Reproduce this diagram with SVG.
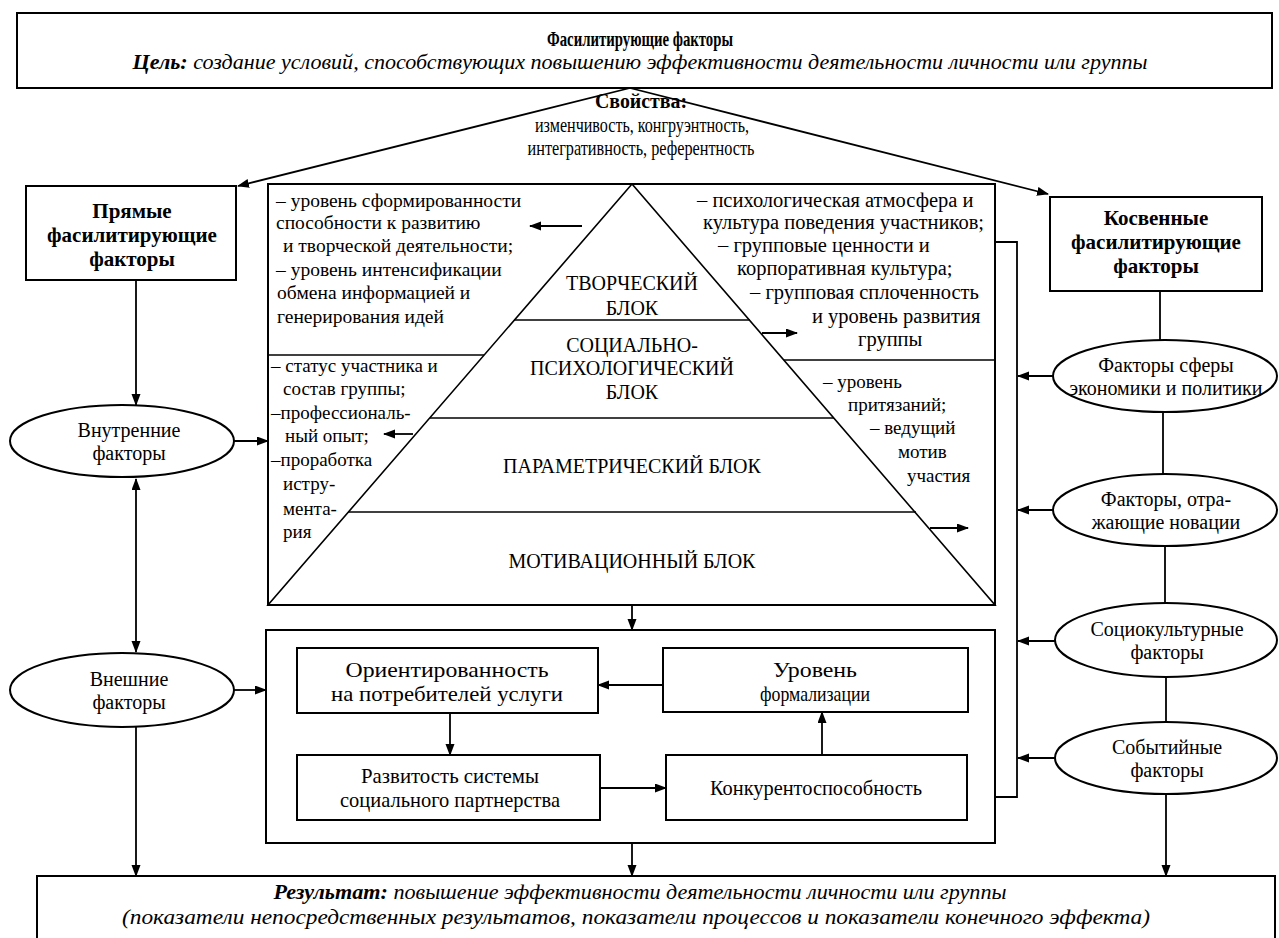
<svg xmlns="http://www.w3.org/2000/svg" width="1279" height="938" viewBox="0 0 1279 938" font-family="'Liberation Serif', 'Times New Roman', serif">
<defs>
<marker id="ah" markerWidth="12" markerHeight="10" refX="11" refY="4.5" orient="auto-start-reverse" markerUnits="userSpaceOnUse">
<path d="M0,0 L12,4.5 L0,9 z" fill="#000"/>
</marker>
<style>
.box{fill:#fff;stroke:#000;stroke-width:2}
.thin{fill:none;stroke:#000;stroke-width:1.6}
.ln{fill:none;stroke:#000;stroke-width:1.8}
.ar{fill:none;stroke:#000;stroke-width:1.8;marker-end:url(#ah)}
.da{fill:none;stroke:#000;stroke-width:1.8;marker-end:url(#ah);marker-start:url(#ah)}
text{font-family:"Liberation Serif","Times New Roman",serif;fill:#000}
.t19{font-size:19px}
.t195{font-size:19.5px}
.t20{font-size:20px}
.t205{font-size:20.5px}
.t21{font-size:21px}
.t22{font-size:22px}
.cap{font-size:20px;text-anchor:middle}
.c{text-anchor:middle}
.b{font-weight:bold}
.i{font-style:italic}
</style>
</defs>
<rect width="1279" height="938" fill="#fff"/>

<g id="top">
<rect class="box" x="17" y="13" width="1255" height="75"/>
<text class="t22 b c" x="640" y="46" textLength="186" lengthAdjust="spacingAndGlyphs">Фасилитирующие факторы</text>
<text class="t20 i c" x="640" y="69" textLength="1015" lengthAdjust="spacingAndGlyphs"><tspan class="b">Цель:</tspan> создание условий, способствующих повышению эффективности деятельности личности или группы</text>
</g>

<g id="properties">
<text class="t20 b c" x="641" y="108" textLength="92" lengthAdjust="spacingAndGlyphs">Свойства:</text>
<text class="t21 c" x="642" y="132" textLength="214" lengthAdjust="spacingAndGlyphs">изменчивость, конгруэнтность,</text>
<text class="t21 c" x="641" y="155" textLength="227" lengthAdjust="spacingAndGlyphs">интегративность, референтность</text>
</g>

<g id="direct">
<rect class="box" x="26" y="186" width="210" height="94"/>
<text class="t21 b c" x="132" y="218">Прямые</text>
<text class="t21 b c" x="132" y="242">фасилитирующие</text>
<text class="t21 b c" x="132" y="266">факторы</text>
</g>

<g id="indirect">
<rect class="box" x="1050" y="197" width="212" height="94"/>
<text class="t21 b c" x="1156" y="225">Косвенные</text>
<text class="t21 b c" x="1156" y="249">фасилитирующие</text>
<text class="t21 b c" x="1156" y="273">факторы</text>
</g>

<g id="pyramid">
<rect class="box" x="268" y="184" width="727" height="421"/>
<polygon class="thin" points="632,184 268,605 995,605"/>
<line class="thin" x1="514" y1="320" x2="750" y2="320"/>
<line class="thin" x1="430" y1="418" x2="834" y2="418"/>
<line class="thin" x1="348" y1="512" x2="916" y2="512"/>
<line class="thin" x1="268" y1="355" x2="484" y2="355"/>
<line class="thin" x1="784" y1="360" x2="995" y2="360"/>
<text class="cap" x="632" y="290">ТВОРЧЕСКИЙ</text>
<text class="cap" x="632" y="315">БЛОК</text>
<text class="cap" x="632" y="352">СОЦИАЛЬНО-</text>
<text class="cap" x="632" y="375">ПСИХОЛОГИЧЕСКИЙ</text>
<text class="cap" x="632" y="399">БЛОК</text>
<text class="cap" x="632" y="473">ПАРАМЕТРИЧЕСКИЙ БЛОК</text>
<text class="cap" x="632" y="568">МОТИВАЦИОННЫЙ БЛОК</text>
<text class="t195" x="276" y="207">– уровень сформированности</text>
<text class="t195" x="276" y="229">способности к развитию</text>
<text class="t195" x="283" y="252">и творческой деятельности;</text>
<text class="t195" x="276" y="276">– уровень интенсификации</text>
<text class="t195" x="277" y="299">обмена информацией и</text>
<text class="t195" x="277" y="323">генерирования идей</text>
<text class="t205" x="697" y="207">– психологическая атмосфера и</text>
<text class="t205" x="703" y="229">культура поведения участников;</text>
<text class="t205" x="718" y="252">– групповые ценности и</text>
<text class="t205" x="737" y="275">корпоративная культура;</text>
<text class="t205" x="750" y="299">– групповая сплоченность</text>
<text class="t205" x="812" y="323">и уровень развития</text>
<text class="t205" x="858" y="346">группы</text>
<text class="t19" x="823" y="388">– уровень</text>
<text class="t19" x="848" y="411">притязаний;</text>
<text class="t19" x="870" y="434">– ведущий</text>
<text class="t19" x="898" y="458">мотив</text>
<text class="t19" x="907" y="482">участия</text>
<text class="t19" x="271" y="372">– статус участника и</text>
<text class="t19" x="283" y="395">состав группы;</text>
<text class="t19" x="271" y="419">–профессиональ-</text>
<text class="t19" x="285" y="442">ный опыт;</text>
<text class="t19" x="271" y="466">–проработка</text>
<text class="t19" x="283" y="490">истру-</text>
<text class="t19" x="283" y="515">мента-</text>
<text class="t19" x="283" y="538">рия</text>
</g>

<g id="internal">
<ellipse class="box" cx="122" cy="441" rx="112" ry="36"/>
<text class="t20 c" x="129" y="437">Внутренние</text>
<text class="t20 c" x="129" y="460">факторы</text>
</g>

<g id="external">
<ellipse class="box" cx="122" cy="690" rx="112" ry="37"/>
<text class="t20 c" x="129" y="686">Внешние</text>
<text class="t20 c" x="129" y="709">факторы</text>
</g>

<g id="econ">
<ellipse class="box" cx="1165" cy="376" rx="112" ry="36"/>
<text class="t20 c" x="1166" y="372">Факторы сферы</text>
<text class="t20 c" x="1166" y="395">экономики и политики</text>
</g>

<g id="innov">
<ellipse class="box" cx="1165" cy="510" rx="112" ry="36"/>
<text class="t20 c" x="1166" y="506">Факторы, отра-</text>
<text class="t20 c" x="1166" y="529">жающие новации</text>
</g>

<g id="socio">
<ellipse class="box" cx="1166" cy="640" rx="111" ry="37"/>
<text class="t20 c" x="1167" y="636">Социокультурные</text>
<text class="t20 c" x="1167" y="659">факторы</text>
</g>

<g id="event">
<ellipse class="box" cx="1166" cy="758" rx="111" ry="36"/>
<text class="t20 c" x="1167" y="754">Событийные</text>
<text class="t20 c" x="1167" y="777">факторы</text>
</g>

<g id="lower">
<rect class="box" x="266" y="630" width="729" height="213"/>
</g>
<g id="orient">
<rect class="box" x="297" y="648" width="301" height="65"/>
<text class="t22 c" x="447" y="677" textLength="203" lengthAdjust="spacingAndGlyphs">Ориентированность</text>
<text class="t22 c" x="447" y="701" textLength="232" lengthAdjust="spacingAndGlyphs">на потребителей услуги</text>
</g>
<g id="formal">
<rect class="box" x="663" y="648" width="305" height="64"/>
<text class="t22 c" x="815" y="677" textLength="84" lengthAdjust="spacingAndGlyphs">Уровень</text>
<text class="t22 c" x="815" y="701" textLength="110" lengthAdjust="spacingAndGlyphs">формализации</text>
</g>
<g id="partner">
<rect class="box" x="297" y="755" width="303" height="65"/>
<text class="t22 c" x="450" y="783" textLength="178" lengthAdjust="spacingAndGlyphs">Развитость системы</text>
<text class="t22 c" x="450" y="807" textLength="220" lengthAdjust="spacingAndGlyphs">социального партнерства</text>
</g>
<g id="compet">
<rect class="box" x="666" y="755" width="301" height="65"/>
<text class="t22 c" x="816" y="795" textLength="212" lengthAdjust="spacingAndGlyphs">Конкурентоспособность</text>
</g>

<g id="result">
<rect class="box" x="37" y="876" width="1238" height="80"/>
<text class="t21 i c" x="640" y="899" textLength="733" lengthAdjust="spacingAndGlyphs"><tspan class="b">Результат:</tspan> повышение эффективности деятельности личности или группы</text>
<text class="t21 i c" x="636" y="924" textLength="1028" lengthAdjust="spacingAndGlyphs">(показатели непосредственных результатов, показатели процессов и показатели конечного эффекта)</text>
</g>

<g id="connectors">
<line class="ar" x1="630" y1="88" x2="238" y2="186"/>
<line class="ar" x1="630" y1="88" x2="1048" y2="194"/>
<line class="ar" x1="136" y1="280" x2="136" y2="405"/>
<line class="da" x1="136" y1="479" x2="136" y2="652"/>
<line class="ar" x1="136" y1="727" x2="136" y2="876"/>
<line class="ar" x1="234" y1="441" x2="268" y2="441"/>
<line class="ar" x1="234" y1="690" x2="266" y2="690"/>
<line class="ar" x1="632" y1="605" x2="632" y2="630"/>
<line class="ar" x1="632" y1="843" x2="632" y2="876"/>
<polyline class="ln" points="995,242 1017,242 1017,797 995,797"/>
<line class="ar" x1="1053" y1="376" x2="1018" y2="376"/>
<line class="ar" x1="1053" y1="510" x2="1018" y2="510"/>
<line class="ar" x1="1055" y1="641" x2="1018" y2="641"/>
<line class="ar" x1="1055" y1="758" x2="1018" y2="758"/>
<line class="ln" x1="1160" y1="291" x2="1160" y2="340"/>
<line class="ln" x1="1163" y1="412" x2="1163" y2="474"/>
<line class="ln" x1="1165" y1="546" x2="1165" y2="603"/>
<line class="ln" x1="1166" y1="677" x2="1166" y2="722"/>
<line class="ar" x1="1166" y1="794" x2="1166" y2="876"/>
<line class="ar" x1="582" y1="226" x2="530" y2="226"/>
<line class="ar" x1="762" y1="333" x2="797" y2="333"/>
<line class="ar" x1="413" y1="434" x2="384" y2="434"/>
<line class="ar" x1="930" y1="528" x2="968" y2="528"/>
<line class="ar" x1="663" y1="685" x2="598" y2="685"/>
<line class="ar" x1="450" y1="713" x2="450" y2="755"/>
<line class="ar" x1="600" y1="788" x2="666" y2="788"/>
<line class="ar" x1="822" y1="755" x2="822" y2="712"/>
</g>
</svg>
